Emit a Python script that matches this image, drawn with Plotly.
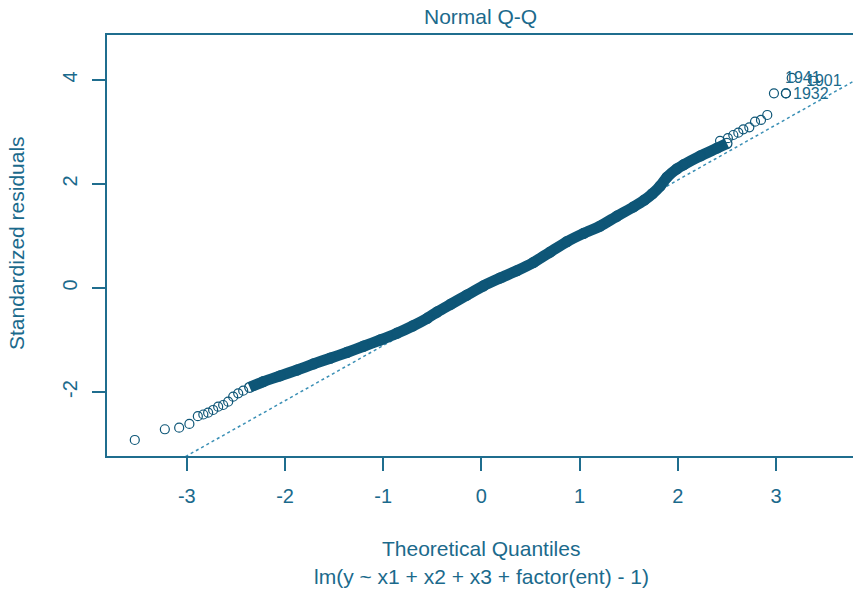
import plotly.graph_objects as go

# ---- data (theoretical quantile, standardized residual) ----
low_x = [-3.530, -3.224, -3.078, -2.974, -2.888, -2.832, -2.783, -2.732, -2.681,
         -2.630, -2.579, -2.528, -2.477, -2.426]
low_y = [-2.923, -2.717, -2.687, -2.615, -2.465, -2.433, -2.398, -2.346, -2.283,
         -2.250, -2.187, -2.090, -2.025, -1.975]

band_x = [-2.36, -2.22, -2.05, -1.88, -1.71, -1.54, -1.37, -1.20, -1.03, -0.86,
          -0.70, -0.55, -0.45, -0.31, -0.15, 0.02, 0.19, 0.36, 0.53, 0.70, 0.87,
          1.04, 1.21, 1.38, 1.55, 1.66, 1.74, 1.82, 1.89, 1.99, 2.06, 2.23, 2.40, 2.50]
band_y = [-1.91, -1.80, -1.69, -1.58, -1.46, -1.35, -1.24, -1.12, -1.00, -0.87,
          -0.73, -0.58, -0.46, -0.31, -0.14, 0.04, 0.19, 0.33, 0.49, 0.69, 0.89,
          1.05, 1.19, 1.38, 1.56, 1.69, 1.81, 1.96, 2.13, 2.29, 2.37, 2.54, 2.69, 2.78]

up_x = [2.43, 2.51, 2.565, 2.616, 2.667, 2.728, 2.786, 2.847, 2.911, 2.979, 3.101]
up_y = [2.83, 2.88, 2.942, 2.987, 3.052, 3.090, 3.198, 3.231, 3.327, 3.744, 3.744]

id_labels = ["1932", "1941", "1901"]
id_x = [3.101, 3.160, 3.380]
id_y = [3.744, 4.040, 3.985]

qq_intercept = -0.045
qq_slope = 1.061

x_ticks = [-3, -2, -1, 0, 1, 2, 3]
x_ticktext = ["-3", "-2", "-1", "0", "1", "2", "3"]
y_ticks = [-2, 0, 2, 4]
y_ticktext = ["-2", "0", "2", "4"]

x_range = [-3.813, 3.784]
y_range = [-3.231, 4.865]

# ---- styles ----
PT = "#0e5677"
AX = "#1f6d8e"
TX = "#1b6a8c"
QL = "#3a8fb5"
FONT = "Liberation Sans, Arial, sans-serif"

fig = go.Figure()

# reference line (qqline)
fig.add_trace(go.Scatter(
    x=x_range, y=[qq_intercept + qq_slope * v for v in x_range],
    mode="lines", line=dict(color=QL, width=1.5, dash="dot"),
    hoverinfo="skip", showlegend=False))

# dense band of overlapping points
fig.add_trace(go.Scatter(
    x=band_x, y=band_y, mode="lines+markers",
    line=dict(color=PT, width=11, shape="spline", smoothing=0.6),
    marker=dict(symbol="circle-open", size=10, color=PT, line=dict(width=1.3)),
    showlegend=False))

# separate points in the tails
fig.add_trace(go.Scatter(
    x=low_x + up_x + id_x, y=low_y + up_y + id_y, mode="markers",
    marker=dict(symbol="circle-open", size=9, color=PT, line=dict(width=1.2)),
    showlegend=False))

annotations = []
shifts = [5, -9, -9]
for lab, xx, yy, sh in zip(id_labels, id_x, id_y, shifts):
    annotations.append(dict(x=xx, y=yy, xref="x", yref="y", text=lab, showarrow=False,
                            xanchor="left", yanchor="middle", xshift=sh,
                            font=dict(family=FONT, size=16, color=TX)))

annotations += [
    dict(text="Normal Q-Q", xref="paper", yref="paper", x=0.5, y=1.0428,
         xanchor="center", yanchor="middle", showarrow=False,
         font=dict(family=FONT, size=21, color=TX)),
    dict(text="Theoretical Quantiles", xref="paper", yref="paper", x=0.5015, y=-0.2209,
         xanchor="center", yanchor="middle", showarrow=False,
         font=dict(family=FONT, size=21, color=TX)),
    dict(text="lm(y ~ x1 + x2 + x3 + factor(ent) - 1)", xref="paper", yref="paper",
         x=0.5015, y=-0.2874, xanchor="center", yanchor="middle", showarrow=False,
         font=dict(family=FONT, size=21, color=TX)),
    dict(text="Standardized residuals", xref="paper", yref="paper", x=-0.1206, y=0.506,
         xanchor="center", yanchor="middle", showarrow=False, textangle=-90,
         font=dict(family=FONT, size=21, color=TX)),
]

fig.update_layout(
    width=853, height=591,
    margin=dict(l=107, r=0, t=35, b=135),
    paper_bgcolor="white", plot_bgcolor="white",
    font=dict(family=FONT, color=TX),
    annotations=annotations,
    xaxis=dict(range=x_range, showgrid=False, zeroline=False,
               showline=True, mirror=True, linecolor=AX, linewidth=1.5,
               ticks="outside", ticklen=13, tickwidth=1.5, tickcolor=AX,
               tickvals=x_ticks, ticktext=x_ticktext, ticklabelstandoff=8,
               tickfont=dict(family=FONT, size=20, color=TX)),
    yaxis=dict(range=y_range, showgrid=False, zeroline=False,
               showline=True, mirror=False, linecolor=AX, linewidth=1.5,
               ticks="outside", ticklen=13, tickwidth=1.5, tickcolor=AX,
               tickvals=y_ticks, ticktext=y_ticktext, tickangle=-90,
               ticklabelstandoff=7,
               tickfont=dict(family=FONT, size=20, color=TX)),
)

fig.write_html("out.html")
